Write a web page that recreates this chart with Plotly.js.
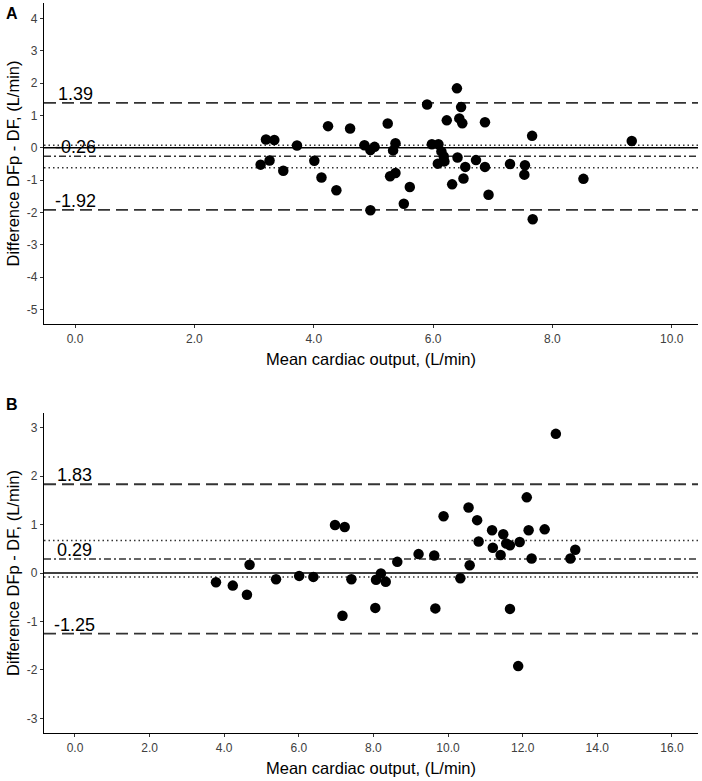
<!DOCTYPE html>
<html><head><meta charset="utf-8">
<script src="https://cdn.plot.ly/plotly-3.0.1.min.js"></script>
<style>html,body{margin:0;padding:0;background:#fff}#chart{width:702px;height:781px}</style>
</head><body><div id="chart"></div>
<script>
// ---------- Panel A data ----------
const aMean = [3.11,3.20,3.26,3.34,3.49,3.72,4.01,4.13,4.24,4.38,4.61,4.85,4.95,4.95,5.02,5.24,5.28,5.33,5.37,5.37,5.51,5.61,5.90,5.98,6.08,6.09,6.14,6.18,6.19,6.23,6.32,6.40,6.41,6.44,6.47,6.49,6.51,6.54,6.72,6.87,6.87,6.93,7.29,7.54,7.53,7.66,7.67,8.52,9.33];
const aDiff = [-0.52,0.26,-0.39,0.24,-0.71,0.07,-0.40,-0.92,0.67,-1.31,0.60,0.08,-1.93,-0.07,0.03,0.75,-0.88,-0.08,0.14,-0.78,-1.73,-1.21,1.34,0.11,-0.49,0.11,-0.11,-0.27,-0.42,0.85,-1.13,1.84,-0.30,0.91,1.26,0.76,-0.95,-0.59,-0.38,0.79,-0.59,-1.45,-0.50,-0.54,-0.83,0.37,-2.21,-0.96,0.21];
const aLoA = [1.39, -1.92];
const aBias = -0.26;
const aBiasCI = [0.08, -0.62];
const aXTicks = [0,2,4,6,8,10];
const aYTicks = [-5,-4,-3,-2,-1,0,1,2,3,4];

// ---------- Panel B data ----------
const bMean = [3.78,4.23,4.61,4.68,5.39,6.01,6.39,6.97,7.23,7.17,7.41,8.07,8.20,8.33,8.05,8.64,9.21,9.63,9.66,9.88,10.33,10.55,10.58,10.78,10.82,11.18,11.20,11.41,11.48,11.56,11.66,11.66,11.88,11.92,12.11,12.16,12.24,12.59,12.89,13.28,13.41];
const bDiff = [-0.19,-0.26,-0.45,0.17,-0.13,-0.06,-0.08,0.99,0.95,-0.88,-0.13,-0.14,-0.01,-0.18,-0.72,0.23,0.39,0.36,-0.73,1.17,-0.11,1.35,0.16,1.09,0.65,0.88,0.52,0.37,0.80,0.61,0.57,-0.74,-1.92,0.64,1.56,0.88,0.30,0.90,2.87,0.30,0.48];
const bLoA = [1.83, -1.25];
const bBias = 0.29;
const bBiasCI = [0.67, -0.08];
const bXTicks = [0,2,4,6,8,10,12,14,16];
const bYTicks = [-3,-2,-1,0,1,2,3];

const FONT = 'Liberation Sans, Arial, Helvetica, sans-serif';
const xTitle = 'Mean cardiac output, (L/min)';
const yTitle = 'Difference DFp - DF, (L/min)';

function pts(x, y, xa, ya) {
  return {type:'scatter', mode:'markers', x:x, y:y, xaxis:xa, yaxis:ya,
    marker:{color:'#000', size:10.5, line:{width:0}}, hoverinfo:'skip', showlegend:false, cliponaxis:false};
}
function hline(axNum, y, dash, color, width) {
  const xr = (axNum === 1 ? 'x' : 'x2') + ' domain';
  const yr = axNum === 1 ? 'y' : 'y2';
  return {type:'line', xref:xr, yref:yr, x0:0, x1:1, y0:y, y1:y, layer:'below',
    line:{color:color, width:width, dash:dash}};
}
function panelShapes(n, loa, bias, ci) {
  const s = [];
  s.push(hline(n, 0, 'solid', '#000', 1.5));
  ci.forEach(v => s.push(hline(n, v, '1.5px,3px', '#333', 1.5)));
  s.push(hline(n, bias, '7px,3px,2px,3px', '#333', 1.4));
  loa.forEach(v => s.push(hline(n, v, '12px,6px', '#333', 1.8)));
  return s;
}
function valLabel(n, y) {
  return {xref: n === 1 ? 'x' : 'x2', yref: n === 1 ? 'y' : 'y2', x:0, y:y,
    text:y.toFixed(2), showarrow:false, xanchor:'center', yanchor:'bottom', yshift:-3,
    font:{family:FONT, size:18, color:'#000'}};
}
function xAxis(domain, range, ticks, anchor) {
  return {domain:domain, range:range, anchor:anchor, tickvals:ticks, ticktext:ticks.map(v=>v.toFixed(1)),
    showline:true, linecolor:'#000', linewidth:1.2, ticks:'outside', ticklen:3, tickwidth:1, tickcolor:'#333',
    tickfont:{family:FONT, size:12, color:'#404040'}, showgrid:false, zeroline:false, fixedrange:true,
    title:{text:xTitle, font:{family:FONT, size:16.5, color:'#000'}, standoff:8}};
}
function yAxis(domain, range, ticks, anchor) {
  return {domain:domain, range:range, anchor:anchor, tickvals:ticks, ticktext:ticks.map(v=>String(v)),
    showline:true, linecolor:'#000', linewidth:1.2, ticks:'outside', ticklen:3, tickwidth:1, tickcolor:'#333',
    tickfont:{family:FONT, size:12, color:'#404040'}, showgrid:false, zeroline:false, fixedrange:true,
    title:{text:yTitle, font:{family:FONT, size:16.5, color:'#000'}, standoff:3}};
}

const W = 702, H = 781;
const xDom = [44/W, 698/W];
const layout = {
  width:W, height:H, margin:{l:0, r:0, t:0, b:0}, paper_bgcolor:'#fff', plot_bgcolor:'#fff',
  font:{family:FONT},
  xaxis: xAxis(xDom, [-0.52, 10.44], aXTicks, 'y'),
  yaxis: yAxis([(H-324)/H, (H-3)/H], [-5.45, 4.48], aYTicks, 'x'),
  xaxis2: xAxis(xDom, [-0.83, 16.7], bXTicks, 'y2'),
  yaxis2: yAxis([(H-733)/H, (H-413)/H], [-3.3, 3.3], bYTicks, 'x2'),
  shapes: panelShapes(1, aLoA, aBias, aBiasCI).concat(panelShapes(2, bLoA, bBias, bBiasCI)),
  annotations: [
    valLabel(1, aLoA[0]), valLabel(1, aBias), valLabel(1, aLoA[1]),
    valLabel(2, bLoA[0]), valLabel(2, bBias), valLabel(2, bLoA[1]),
    {xref:'paper', yref:'paper', x:4/W, y:1-13/H, text:'<b>A</b>', showarrow:false, xanchor:'left', yanchor:'middle',
      font:{family:FONT, size:16, color:'#000'}},
    {xref:'paper', yref:'paper', x:4/W, y:1-404/H, text:'<b>B</b>', showarrow:false, xanchor:'left', yanchor:'middle',
      font:{family:FONT, size:16, color:'#000'}}
  ]
};

Plotly.newPlot('chart', [pts(aMean, aDiff, 'x', 'y'), pts(bMean, bDiff, 'x2', 'y2')], layout,
  {displayModeBar:false, staticPlot:true});
</script>
</body></html>
